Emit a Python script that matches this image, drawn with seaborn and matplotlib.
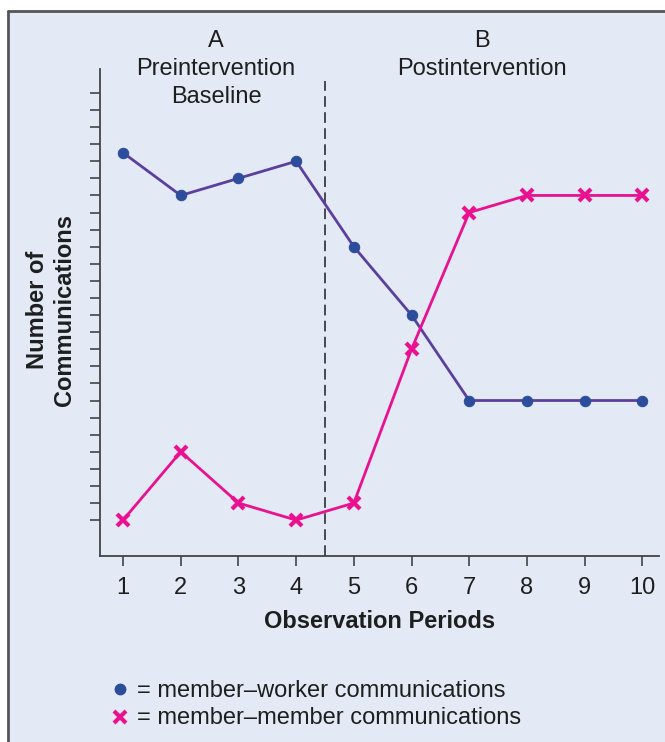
import matplotlib
matplotlib.use("Agg")
import matplotlib.pyplot as plt
import seaborn as sns
import pandas as pd
from matplotlib.lines import Line2D

periods = [1, 2, 3, 4, 5, 6, 7, 8, 9, 10]
member_worker = [23.5, 21, 22, 23, 18, 14, 9, 9, 9, 9]
member_member = [2, 6, 3, 2, 3, 12, 20, 21, 21, 21]
y_ticks = list(range(2, 28))
x_tick_labels = ["1", "2", "3", "4", "5", "6", "7", "8", "9", "10"]
phase_a = "A\nPreintervention\nBaseline"
phase_b = "B\nPostintervention"
legend_labels = ["= member\u2013worker communications", "= member\u2013member communications"]

sns.set_theme(style="white")
plt.rcParams["font.family"] = ["Liberation Sans", "DejaVu Sans"]

BG = "#e4eaf5"
BLUE_LINE = "#5b3f9e"
BLUE_MK = "#2c4c9c"
PINK = "#ea1190"
DARK = "#1e1e1e"
FS = 17

fig = plt.figure(figsize=(6.65, 7.42), dpi=100)
fig.patch.set_facecolor("white")
# background panel with left/top border
panel = plt.Rectangle((8 / 665, 0), 1, 1 - 10.5 / 742, transform=fig.transFigure,
                      facecolor=BG, edgecolor="none", zorder=-10)
fig.patches.append(panel)
fig.add_artist(Line2D([8 / 665, 8 / 665], [0, 1 - 10.5 / 742], transform=fig.transFigure,
                      color="#555555", lw=2, zorder=-5))
fig.add_artist(Line2D([8 / 665, 1], [1 - 10.5 / 742, 1 - 10.5 / 742], transform=fig.transFigure,
                      color="#555555", lw=2, zorder=-5))

ax = fig.add_axes([100 / 665, 1 - 556 / 742, 559 / 665, (556 - 69) / 742])
ax.set_facecolor("none")
ax.set_zorder(2)

df_w = pd.DataFrame({"period": periods, "count": member_worker})
df_m = pd.DataFrame({"period": periods, "count": member_member})

sns.lineplot(data=df_w, x="period", y="count", ax=ax, color=BLUE_LINE, lw=2,
             marker="o", markersize=7.5, markerfacecolor=BLUE_MK, markeredgecolor=BLUE_MK,
             zorder=3)
sns.lineplot(data=df_m, x="period", y="count", ax=ax, color=PINK, lw=2,
             marker="x", markersize=8.5, markeredgewidth=3, markerfacecolor=PINK,
             markeredgecolor=PINK, zorder=4)

ax.set_xlim(0.6, 10.29)
ax.set_ylim(-0.1, 28.4)
ax.plot([4.5, 4.5], [-0.1, 27.7], ls=(0, (7, 3.5)), color=DARK, lw=1.1, zorder=2)

ax.set_yticks(y_ticks)
ax.set_yticklabels([])
ax.set_xticks(periods)
ax.set_xticklabels(x_tick_labels, fontsize=FS, color=DARK)
ax.tick_params(axis="both", direction="out", length=7, width=1.2, color="#444444",
               left=True, bottom=True)
ax.tick_params(axis="x", pad=8)
for s in ["top", "right"]:
    ax.spines[s].set_visible(False)
for s in ["left", "bottom"]:
    ax.spines[s].set_color("#444444")
    ax.spines[s].set_linewidth(1.3)

ax.set_xlabel("Observation Periods", fontsize=FS, fontweight="bold", color=DARK, labelpad=8)
ax.set_ylabel("")
fig.text(51 / 665, 1 - 310 / 742, "Number of\nCommunications", rotation=90, ha="center",
         va="center", fontsize=FS, fontweight="bold", color=DARK, linespacing=1.2)

fig.text(216 / 665, 1 - 30 / 742, phase_a, ha="center", va="top", fontsize=FS,
         color=DARK, linespacing=1.36)
fig.text(482 / 665, 1 - 30 / 742, phase_b, ha="center", va="top", fontsize=FS,
         color=DARK, linespacing=1.36)

# legend
fig.add_artist(Line2D([120 / 665], [1 - 689 / 742], transform=fig.transFigure, marker="o",
                      markersize=7.5, color=BLUE_MK, ls="none"))
fig.add_artist(Line2D([120 / 665], [1 - 717 / 742], transform=fig.transFigure, marker="x",
                      markersize=8.5, markeredgewidth=3, color=PINK, ls="none"))
fig.text(137 / 665, 1 - 691 / 742, legend_labels[0], ha="left", va="center", fontsize=FS,
         color=DARK)
fig.text(137 / 665, 1 - 718 / 742, legend_labels[1], ha="left", va="center", fontsize=FS,
         color=DARK)

fig.savefig("out.png", dpi=100, facecolor=fig.get_facecolor())
